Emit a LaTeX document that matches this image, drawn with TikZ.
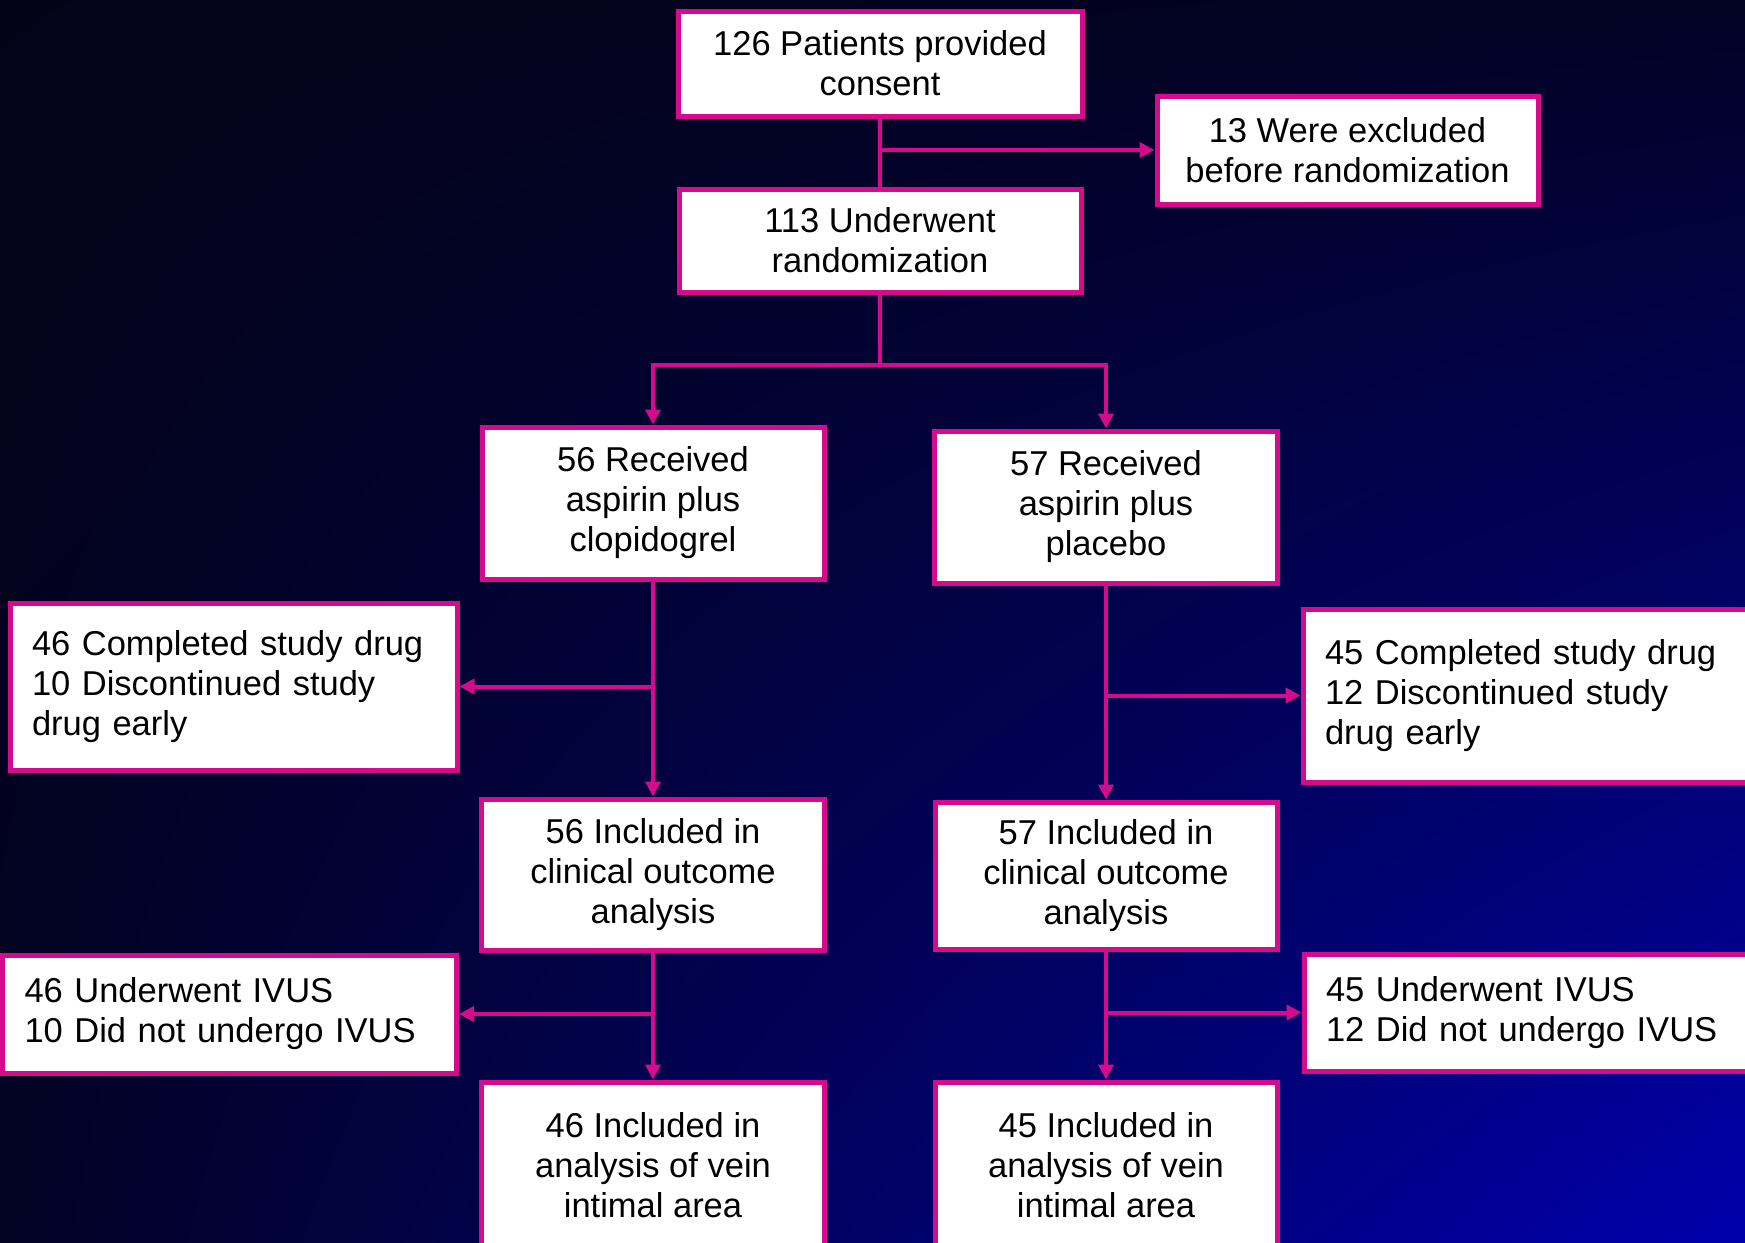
\documentclass[tikz,border=0pt]{standalone}
\usepackage{fontspec}
\setmainfont{Liberation Sans}
\usetikzlibrary{positioning,arrows.meta,shadings}
\definecolor{boxpink}{RGB}{214,10,140}
\definecolor{bgdark}{RGB}{3,3,24}
\definecolor{bgmid}{RGB}{2,2,36}
\definecolor{bgblue}{RGB}{0,0,172}
\tikzstyle{box} = [draw=boxpink, line width=5pt, fill=white, inner sep=0pt, align=center, font=\fontsize{34.5}{40}\selectfont]
\tikzstyle{sidebox} = [box, align=left, inner xsep=22pt]
\tikzstyle{ln} = [draw=boxpink, line width=4pt]
\tikzstyle{arr} = [ln, -{Triangle[length=15pt,width=15pt]}]

\begin{document}
\begin{tikzpicture}[x=1pt,y=1pt]
\useasboundingbox (0,0) rectangle (1745,-1242);
\shade[upper left=bgdark, upper right=bgmid, lower left=bgmid, lower right=bgblue] (0,0) rectangle (1745,-1242);

% top of the flow
\node[box, minimum width=404pt, minimum height=105pt] (consent) at (880,-63.5) {126 Patients provided\\consent};
\node[box, minimum width=381pt, minimum height=108pt] (excl) at (1347.5,-150) {13 Were excluded\\before randomization};
\node[box, minimum width=402pt, minimum height=103pt] (rand) at (880,-240.5) {113 Underwent\\randomization};
\coordinate (split) at (880,-365);

% two arms
\node[box, minimum width=342pt, minimum height=152pt] (clop) at (653,-503) {56 Received\\aspirin plus\\clopidogrel};
\node[box, minimum width=343pt, minimum height=152pt] (plac) at (1106,-507) {57 Received\\aspirin plus\\placebo};

\node[sidebox, text width=403pt, minimum height=167pt] (comp_l) at (233.5,-686.5) {46 Completed study drug\\10 Discontinued study\\drug early};
\node[sidebox, text width=403pt, minimum height=173pt] (comp_r) at (1526.5,-695.5) {45 Completed study drug\\12 Discontinued study\\drug early};

\node[box, minimum width=343pt, minimum height=151pt] (clin_l) at (653,-874.5) {56 Included in\\clinical outcome\\analysis};
\node[box, minimum width=342pt, minimum height=147pt] (clin_r) at (1106,-875.5) {57 Included in\\clinical outcome\\analysis};

\node[sidebox, text width=410pt, minimum height=118pt] (ivus_l) at (229.5,-1014) {46 Underwent IVUS\\10 Did not undergo IVUS};
\node[sidebox, text width=402pt, minimum height=117pt] (ivus_r) at (1527,-1012.5) {45 Underwent IVUS\\12 Did not undergo IVUS};

\node[box, minimum width=343pt, minimum height=166pt] (vein_l) at (653,-1165) {46 Included in\\analysis of vein\\intimal area};
\node[box, minimum width=342pt, minimum height=166pt] (vein_r) at (1106,-1165) {45 Included in\\analysis of vein\\intimal area};

% connectors
\draw[ln] (consent.south) -- (rand.north);
\draw[arr] (consent.south |- excl.west) -- (excl.west);
\draw[ln] (rand.south) -- (split);
\draw[arr] (split) -| (clop.north);
\draw[arr] (split) -| (plac.north);

\draw[arr] (clop.south) -- (clin_l.north);
\draw[arr] (clop.south |- comp_l.east) -- (comp_l.east);
\draw[arr] (clin_l.south) -- (vein_l.north);
\draw[arr] (clin_l.south |- ivus_l.east) -- (ivus_l.east);

\draw[arr] (plac.south) -- (clin_r.north);
\draw[arr] (plac.south |- comp_r.west) -- (comp_r.west);
\draw[arr] (clin_r.south) -- (vein_r.north);
\draw[arr] (clin_r.south |- ivus_r.west) -- (ivus_r.west);

\end{tikzpicture}
\end{document}
